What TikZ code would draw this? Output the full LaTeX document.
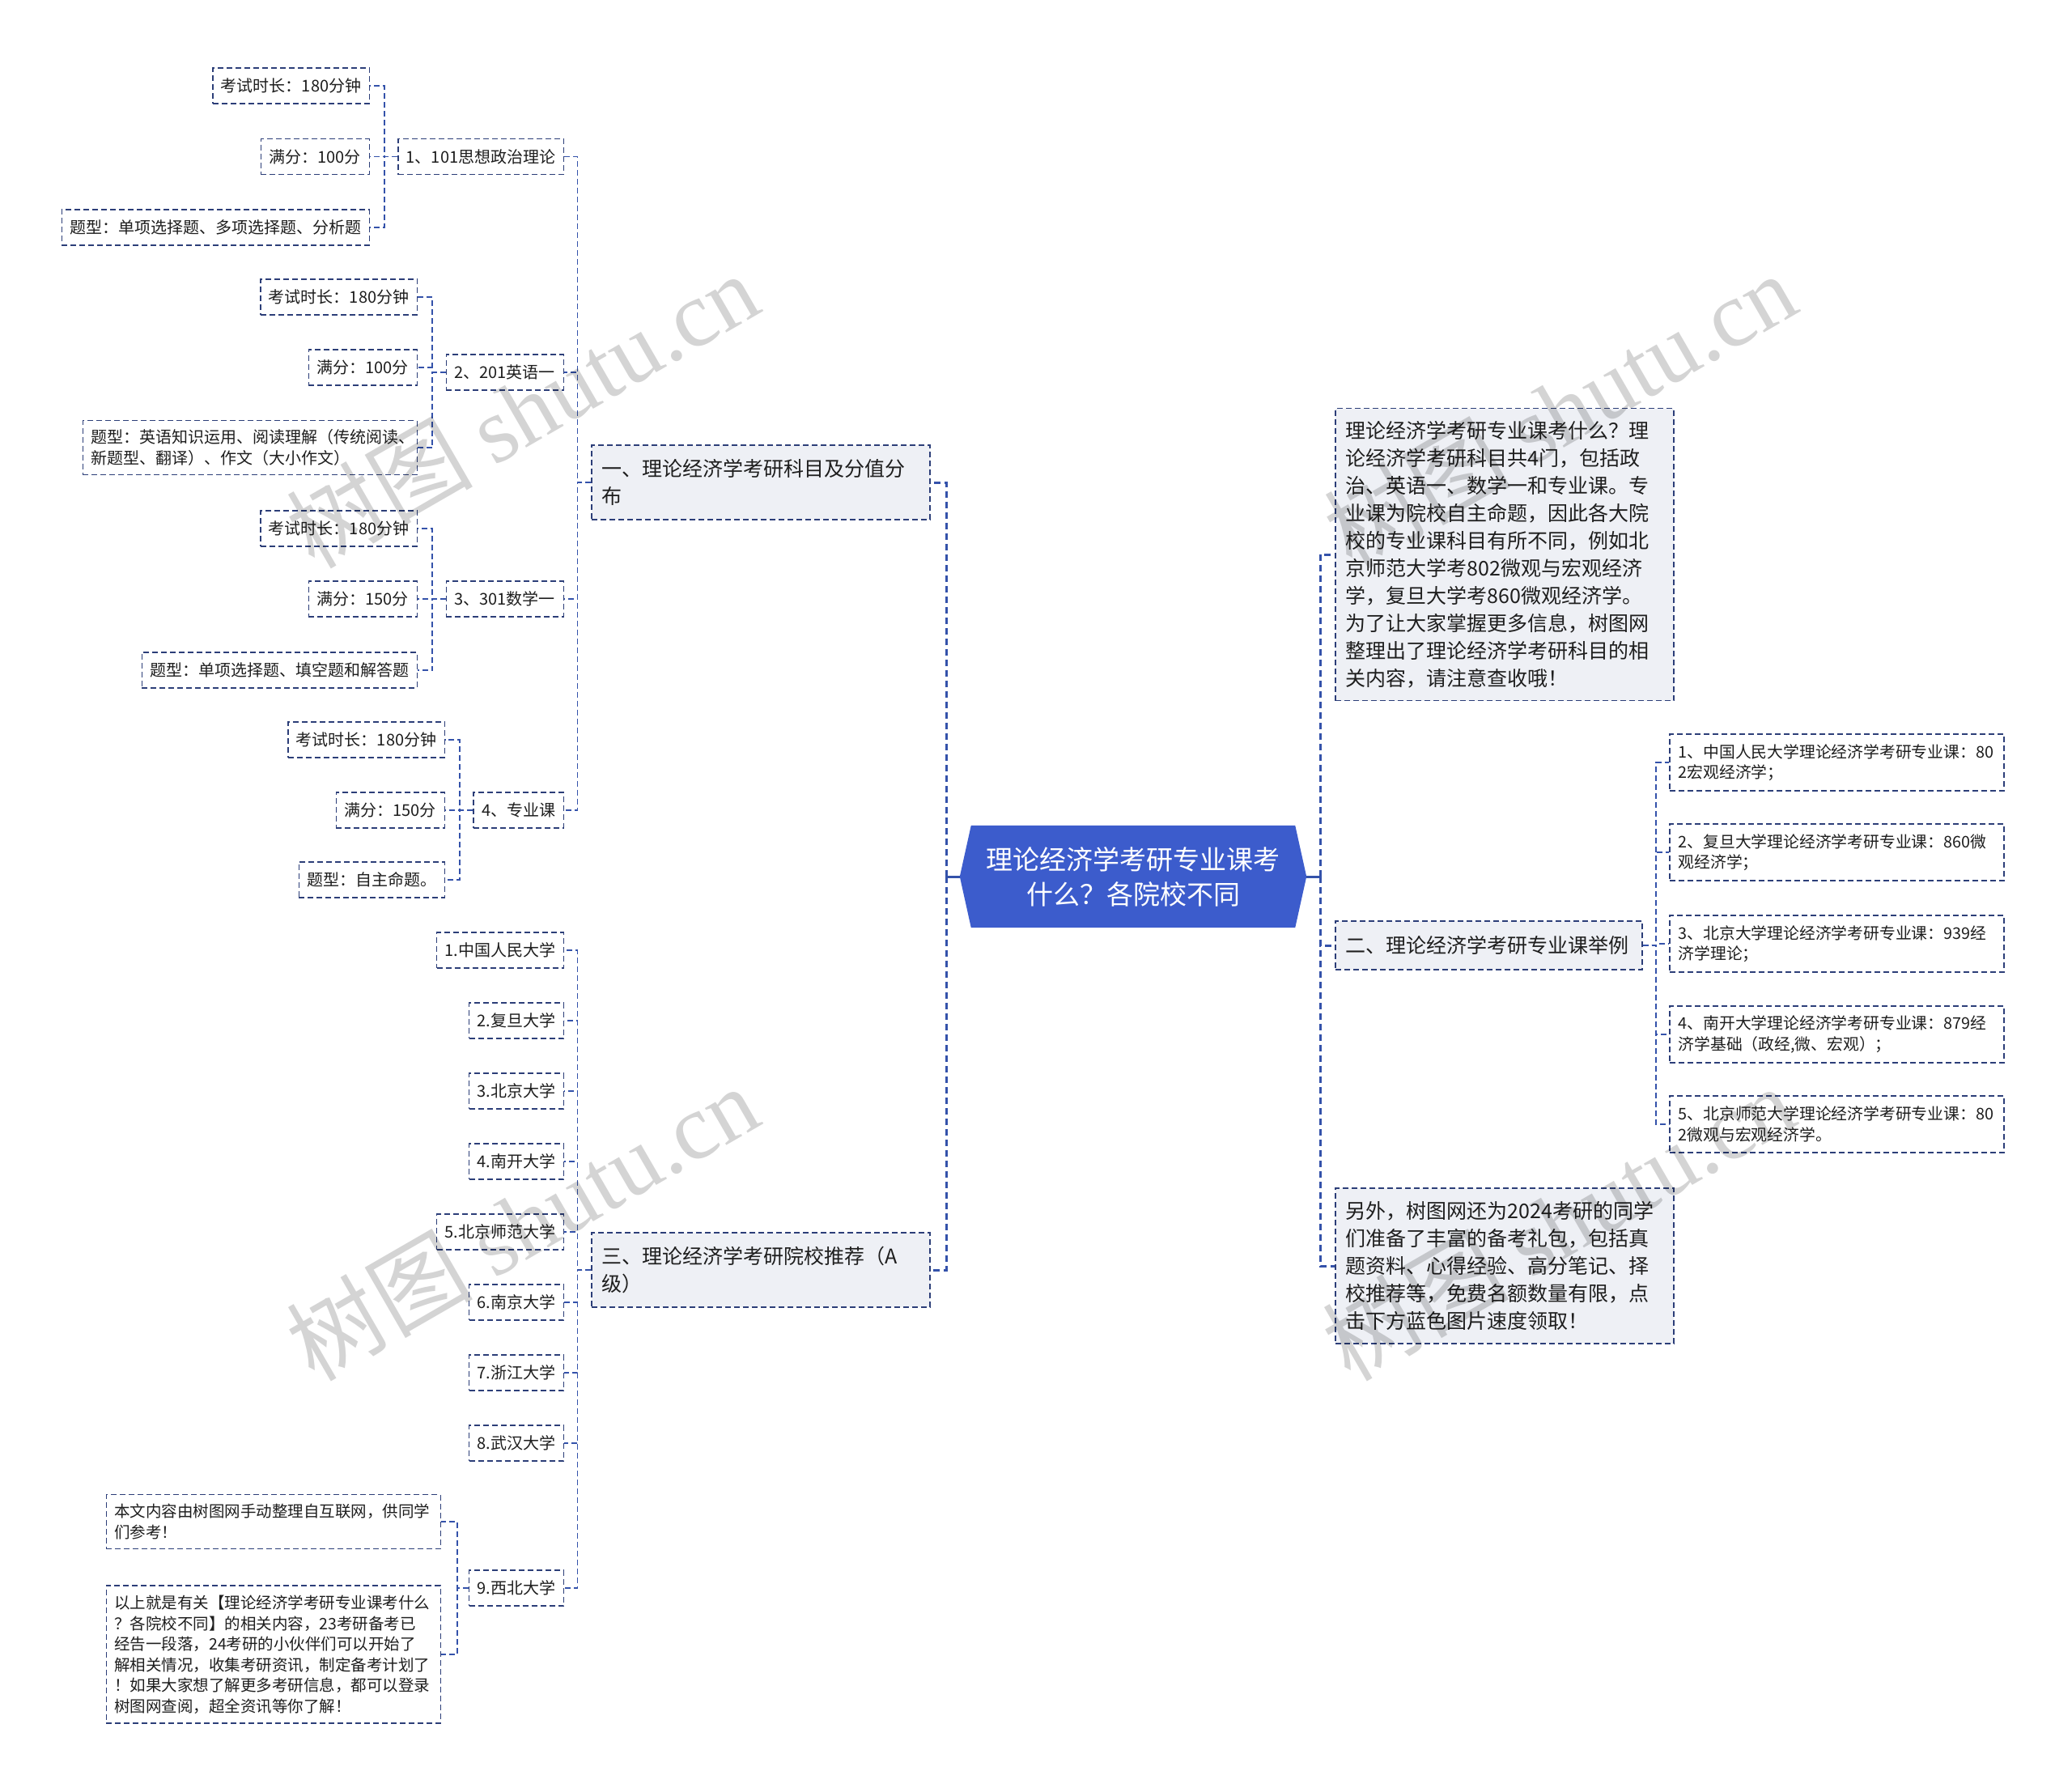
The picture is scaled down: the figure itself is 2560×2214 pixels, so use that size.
\documentclass[tikz,border=0pt]{standalone}
\usepackage{fontspec}
\setmainfont{Noto Sans CJK SC}
\newfontfamily\wmlatin{Liberation Serif}
\usetikzlibrary{calc,backgrounds}
\definecolor{boxc}{RGB}{44,62,120}
\definecolor{linkc}{RGB}{52,82,170}
\definecolor{fillc}{RGB}{238,240,245}
\definecolor{rootc}{RGB}{60,92,204}
\definecolor{txt}{RGB}{30,30,30}
\begin{document}
\begin{tikzpicture}[x=1pt,y=-1pt,
 every node/.style={inner sep=0pt},
 sbox/.style={draw=boxc, line width=1.5pt, dash pattern=on 7pt off 4pt, inner xsep=10pt, inner ysep=0pt, minimum height=44pt, text=txt, font=\fontsize{20}{25.5}\selectfont},
 mbox/.style={sbox, align=left},
 fbox/.style={sbox, fill=fillc, inner xsep=13pt, font=\fontsize{25}{34}\selectfont, align=left, text width=392pt},
 link/.style={draw=linkc, line width=1.5pt, dash pattern=on 7pt off 4pt},
 mainlink/.style={draw=linkc, line width=3pt, dash pattern=on 8pt off 5pt},
 stub/.style={draw=linkc, line width=3pt},
 rootnode/.style={text=white, font=\fontsize{33}{43}\selectfont, align=center, minimum width=400pt, minimum height=126pt},
 wm/.style={text=black, opacity=0.17, font=\fontsize{115}{115}\selectfont, rotate=30}
]
\useasboundingbox (0,0) rectangle (2560,2214);

% root
\node[rootnode] (root) at (1400,1083) {理论经济学考研专业课考\\什么？各院校不同};
\coordinate (rootL) at ($(root.west)+(-14,0)$);
\coordinate (rootR) at ($(root.east)+(14,0)$);

% level 1
\node[fbox, anchor=east, minimum height=92pt] (N1) at (1149.5,596) {一、理论经济学考研科目及分值分\\布};
\node[fbox, anchor=east, minimum height=92pt] (N3) at (1149.5,1569) {三、理论经济学考研院校推荐（A\\级）};
\node[fbox, anchor=west, minimum height=361pt] (R1) at (1649,685) {理论经济学考研专业课考什么？理\\论经济学考研科目共4门，包括政\\治、英语一、数学一和专业课。专\\业课为院校自主命题，因此各大院\\校的专业课科目有所不同，例如北\\京师范大学考802微观与宏观经济\\学，复旦大学考860微观经济学。\\为了让大家掌握更多信息，树图网\\整理出了理论经济学考研科目的相\\关内容，请注意查收哦！};
\node[fbox, anchor=west, minimum height=60pt, text width=353pt] (N2) at (1649,1168) {二、理论经济学考研专业课举例};
\node[fbox, anchor=west, minimum height=192pt] (R3) at (1649,1564) {另外，树图网还为2024考研的同学\\们准备了丰富的备考礼包，包括真\\题资料、心得经验、高分笔记、择\\校推荐等，免费名额数量有限，点\\击下方蓝色图片速度领取！};

% level 2 left (subjects)
\node[sbox, anchor=east, minimum width=204pt] (P1) at (697,193.5) {1、101思想政治理论};
\node[sbox, anchor=east, minimum width=145pt] (P2) at (697,460) {2、201英语一};
\node[sbox, anchor=east, minimum width=145pt] (P3) at (697,740) {3、301数学一};
\node[sbox, anchor=east, minimum width=109pt] (P4) at (697,1001) {4、专业课};

% leaves
\node[sbox, anchor=east, minimum width=192.5pt] (A1) at (457,106) {考试时长：180分钟};
\node[sbox, anchor=east, minimum width=134pt] (A2) at (457,193.5) {满分：100分};
\node[sbox, anchor=east, minimum width=374pt] (A3) at (457,281) {题型：单项选择题、多项选择题、分析题};
\node[sbox, anchor=east, minimum width=193pt] (B1) at (516,367) {考试时长：180分钟};
\node[sbox, anchor=east, minimum width=134pt] (B2) at (516,454) {满分：100分};
\node[mbox, anchor=east, text width=393pt, minimum height=67pt] (B3) at (516,553) {题型：英语知识运用、阅读理解（传统阅读、\\新题型、翻译）、作文（大小作文）};
\node[sbox, anchor=east, minimum width=193pt] (C1) at (516,653) {考试时长：180分钟};
\node[sbox, anchor=east, minimum width=134pt] (C2) at (516,740) {满分：150分};
\node[sbox, anchor=east, minimum width=336pt] (C3) at (516,828) {题型：单项选择题、填空题和解答题};
\node[sbox, anchor=east, minimum width=192.5pt] (D1) at (550,914) {考试时长：180分钟};
\node[sbox, anchor=east, minimum width=134pt] (D2) at (550,1001) {满分：150分};
\node[sbox, anchor=east, minimum width=178pt] (D3) at (550,1087) {题型：自主命题。};

% schools
\node[sbox, anchor=east, minimum width=155pt] (S1) at (697,1174) {1.中国人民大学};
\node[sbox, anchor=east, minimum width=116pt] (S2) at (697,1261) {2.复旦大学};
\node[sbox, anchor=east, minimum width=116pt] (S3) at (697,1348) {3.北京大学};
\node[sbox, anchor=east, minimum width=116pt] (S4) at (697,1435) {4.南开大学};
\node[sbox, anchor=east, minimum width=155pt] (S5) at (697,1522) {5.北京师范大学};
\node[sbox, anchor=east, minimum width=116pt] (S6) at (697,1609) {6.南京大学};
\node[sbox, anchor=east, minimum width=116pt] (S7) at (697,1696) {7.浙江大学};
\node[sbox, anchor=east, minimum width=116pt] (S8) at (697,1783) {8.武汉大学};
\node[sbox, anchor=east, minimum width=116pt] (S9) at (697,1962) {9.西北大学};
\node[mbox, anchor=east, text width=393pt, minimum height=67pt, font=\fontsize{19.5}{25.5}\selectfont] (E1) at (545,1880) {本文内容由树图网手动整理自互联网，供同学\\们参考！};
\node[mbox, anchor=east, text width=393pt, minimum height=170pt, font=\fontsize{19.5}{25.5}\selectfont] (E2) at (545,2044) {以上就是有关【理论经济学考研专业课考什么\\？各院校不同】的相关内容，23考研备考已\\经告一段落，24考研的小伙伴们可以开始了\\解相关情况，收集考研资讯，制定备考计划了\\！如果大家想了解更多考研信息，都可以登录\\树图网查阅，超全资讯等你了解！};

% right examples
\tikzset{kbox/.style={mbox, anchor=west, text width=391pt, inner xsep=11pt, minimum height=70pt, font=\fontsize{19.8}{25.5}\selectfont}}
\node[kbox] (K1) at (2062,942) {1、中国人民大学理论经济学考研专业课：80\\2宏观经济学；};
\node[kbox] (K2) at (2062,1053) {2、复旦大学理论经济学考研专业课：860微\\观经济学；};
\node[kbox] (K3) at (2062,1166) {3、北京大学理论经济学考研专业课：939经\\济学理论；};
\node[kbox] (K4) at (2062,1278) {4、南开大学理论经济学考研专业课：879经\\济学基础（政经,微、宏观）；};
\node[kbox] (K5) at (2062,1389) {5、北京师范大学理论经济学考研专业课：80\\2微观与宏观经济学。};

\begin{pgfonlayer}{background}
 \fill[white] (0,0) rectangle (2560,2214);
 \fill[rootc] (root.north west) -- (root.north east) -- (rootR) -- (root.south east) -- (root.south west) -- (rootL) -- cycle;
\end{pgfonlayer}

% bus coordinates
\coordinate (L0) at (1169,0);
\coordinate (R0) at (1631,0);
\coordinate (b1) at (713.5,0);
\coordinate (g1) at (475,0);
\coordinate (g2) at (534,0);
\coordinate (g3) at (534,0);
\coordinate (g4) at (568,0);
\coordinate (g9) at (565,0);
\coordinate (gr) at (2046,0);

% root connectors
\draw[stub] (rootL) -- (L0 |- rootL);
\draw[stub] (rootR) -- (R0 |- rootR);
\foreach \n in {N1,N3} \draw[mainlink] (L0 |- rootL) |- (\n.east);
\foreach \n in {R1,N2,R3} \draw[mainlink] (R0 |- rootR) |- (\n.west);

% level-1 connectors
\foreach \n in {P1,P2,P3,P4} \draw[link] (N1.west) -- (b1 |- N1.west) |- (\n.east);
\foreach \n in {S1,S2,S3,S4,S5,S6,S7,S8,S9} \draw[link] (N3.west) -- (b1 |- N3.west) |- (\n.east);
\foreach \n in {K1,K2,K3,K4,K5} \draw[link] (N2.east) -- (gr |- N2.east) |- (\n.west);

% level-2 connectors
\foreach \n in {A1,A2,A3} \draw[link] (P1.west) -- (g1 |- P1.west) |- (\n.east);
\foreach \n in {B1,B2,B3} \draw[link] (P2.west) -- (g2 |- P2.west) |- (\n.east);
\foreach \n in {C1,C2,C3} \draw[link] (P3.west) -- (g3 |- P3.west) |- (\n.east);
\foreach \n in {D1,D2,D3} \draw[link] (P4.west) -- (g4 |- P4.west) |- (\n.east);
\foreach \n in {E1,E2} \draw[link] (S9.west) -- (g9 |- S9.west) |- (\n.east);

% watermarks
\node[wm] (wm1) at (645,506) {树图 {\wmlatin shutu.cn}};
\node[wm] (wm2) at (1927,506) {树图 {\wmlatin shutu.cn}};
\node[wm] (wm3) at (645,1510) {树图 {\wmlatin shutu.cn}};
\node[wm] (wm4) at (1925,1510) {树图 {\wmlatin shutu.cn}};
\end{tikzpicture}
\end{document}
